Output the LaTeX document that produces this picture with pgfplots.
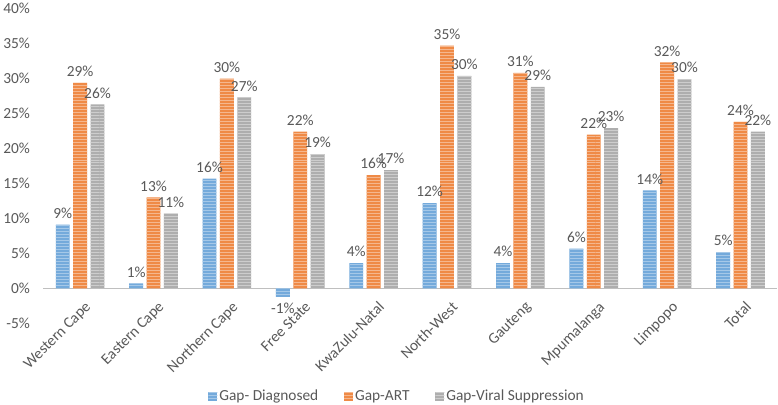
\documentclass[border=0pt]{standalone}
\usepackage{fontspec}
\setmainfont{Carlito}
\usepackage{pgfplots}
\pgfplotsset{compat=1.18}
\usetikzlibrary{patterns}
\definecolor{cblue}{HTML}{5B9BD5}
\definecolor{corange}{HTML}{ED7D31}
\definecolor{cgray}{HTML}{A5A5A5}
\definecolor{txt}{HTML}{595959}
\definecolor{axisgray}{HTML}{BFBFBF}
\pgfplotstableread{
x diag art vs
0 9.1 29.4 26.3
1 0.7 13.0 10.7
2 15.7 30.0 27.3
3 -1.2 22.4 19.2
4 3.6 16.2 16.9
5 12.2 34.7 30.4
6 3.6 30.8 28.8
7 5.7 22.0 22.9
8 14.0 32.3 29.9
9 5.2 23.8 22.4
}\datatable
\begin{document}
\begin{tikzpicture}
\begin{axis}[
  scale only axis, width=739pt, height=317pt,
  ybar=3.5pt, bar width=14pt,
  xmin=-0.5, xmax=9.5, ymin=-5, ymax=40,
  xtick={0,...,9},
  xticklabels={Western Cape, Eastern Cape, Northern Cape, Free State, KwaZulu-Natal, North-West, Gauteng, Mpumalanga, Limpopo, Total},
  ytick={-5,0,...,40},
  yticklabel={\pgfmathprintnumber{\tick}\%},
  /pgf/number format/assume math mode=true,
  axis x line=middle, axis y line=left,
  axis line style={-},
  x axis line style={draw=axisgray, line width=1.6pt},
  y axis line style={draw=none},
  major tick style={draw=none},
  tick label style={font=\fontsize{15.5}{17}\selectfont, text=txt},
  xticklabel style={xshift=4pt, yshift=-10pt, rotate=45, anchor=north east, inner sep=0pt},
  yticklabel style={xshift=-8pt},
  nodes near coords={\pgfmathprintnumber[fixed,precision=0]{\pgfplotspointmeta}\%},
  every node near coord/.append style={font=\fontsize{15.5}{17}\selectfont, text=txt, inner sep=6pt},
  legend style={at={(0.482,-0.232)}, anchor=center, draw=none, legend columns=3,
    font=\fontsize{15.5}{17}\selectfont, text=txt, inner sep=0pt,
    /tikz/every even column/.append style={column sep=24pt}},
  legend image code/.code={\fill[#1] (0pt,-4.5pt) rectangle (9pt,4.5pt);},
  clip=false,
]
\addplot[fill=cblue!85!white, draw=none, postaction={pattern=horizontal lines, pattern color=white!45!cblue}] table[x=x, y=diag] {\datatable};
\addplot[fill=corange!90!white, draw=none, postaction={pattern=horizontal lines, pattern color=white!45!corange}] table[x=x, y=art] {\datatable};
\addplot[fill=cgray!90!white, draw=none, postaction={pattern=horizontal lines, pattern color=white!45!cgray}] table[x=x, y=vs] {\datatable};
\legend{Gap- Diagnosed, Gap-ART, Gap-Viral Suppression}
\end{axis}
\end{tikzpicture}
\end{document}
